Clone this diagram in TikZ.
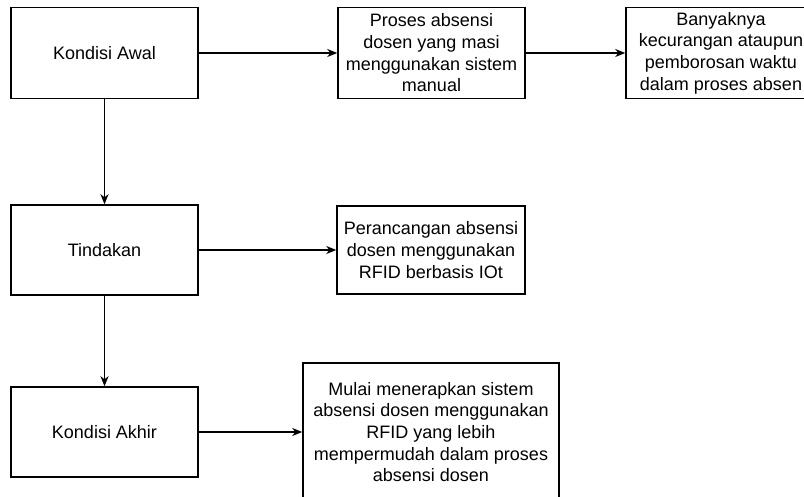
\documentclass[tikz,border=0pt]{standalone}
\usepackage{fontspec}
\setmainfont{Liberation Sans}
\usetikzlibrary{arrows.meta}
\begin{document}
\begin{tikzpicture}[x=1pt,y=-1pt,
  box/.style={draw=black, line width=1.5pt, fill=white, inner sep=0pt, align=center,
    font=\fontsize{18}{21.7}\selectfont},
  link/.style={draw=black, line width=1.5pt, -{Stealth[length=10pt,width=8pt,inset=3pt]}}]
  \useasboundingbox (0,0) rectangle (804,497);
  \clip (0,0) rectangle (804,497);
  % left column: stages
  \node[box, minimum width=187pt, minimum height=91pt] (awal) at (104.5,53) {Kondisi Awal};
  \node[box, minimum width=187pt, minimum height=90pt] (tindakan) at (104.5,250) {Tindakan};
  \node[box, minimum width=187pt, minimum height=90pt] (akhir) at (104.5,432) {Kondisi Akhir};
  % descriptions
  \node[box, minimum width=187pt, minimum height=91pt] (proses) at (431.5,53)
    {Proses absensi\\dosen yang masi\\menggunakan sistem\\manual};
  \node[box, minimum width=190pt, minimum height=91pt] (banyak) at (721,53)
    {Banyaknya\\kecurangan ataupun\\pemborosan waktu\\dalam proses absen};
  \node[box, minimum width=188pt, minimum height=88pt] (rancang) at (431,250)
    {Perancangan absensi\\dosen menggunakan\\RFID berbasis IOt};
  \node[box, minimum width=256pt, minimum height=138pt] (mulai) at (431,432)
    {Mulai menerapkan sistem\\absensi dosen menggunakan\\RFID yang lebih\\mempermudah dalam proses\\absensi dosen};
  % connectors
  \draw[link] (awal) -- (proses);
  \draw[link] (proses) -- (banyak);
  \draw[link] (awal) -- (tindakan);
  \draw[link] (tindakan) -- (rancang);
  \draw[link] (tindakan) -- (akhir);
  \draw[link] (akhir.east) -- (akhir.east -| mulai.west);
\end{tikzpicture}
\end{document}
